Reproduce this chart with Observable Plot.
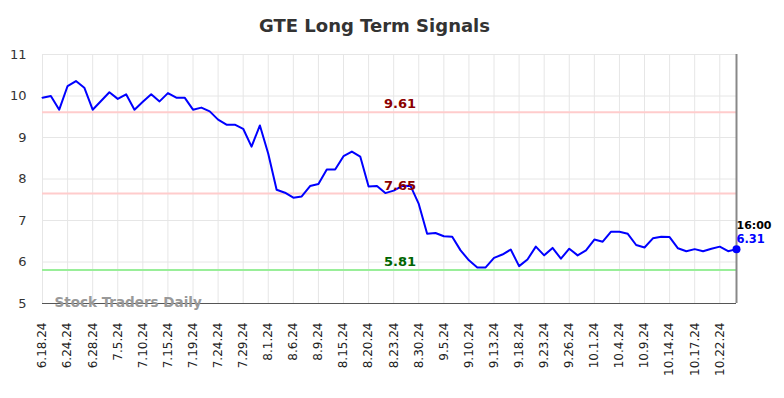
<!DOCTYPE html>
<html><head><meta charset="utf-8">
<script src="https://cdn.jsdelivr.net/npm/d3@7"></script>
<script src="https://cdn.jsdelivr.net/npm/@observablehq/plot@0.6"></script>
<style>body{margin:0;background:#fff} #chart svg{font-family:"DejaVu Sans",sans-serif;}</style>
</head><body><div id="chart"></div>
<script>
const chartTitle = "GTE Long Term Signals";
const watermark = "Stock Traders Daily";
const dateLabels = ["6.18.24","6.24.24","6.28.24","7.5.24","7.10.24","7.15.24","7.19.24","7.24.24","7.29.24","8.1.24","8.6.24","8.9.24","8.15.24","8.20.24","8.23.24","8.30.24","9.5.24","9.10.24","9.13.24","9.18.24","9.23.24","9.26.24","10.1.24","10.4.24","10.9.24","10.14.24","10.17.24","10.22.24"];
const labelEvery = 3;
const prices = [9.96,10.00,9.67,10.24,10.36,10.20,9.67,9.88,10.09,9.93,
  10.04,9.67,9.86,10.04,9.87,10.07,9.96,9.96,9.67,9.72,
  9.63,9.43,9.31,9.31,9.21,8.78,9.29,8.61,7.74,7.67,
  7.55,7.58,7.83,7.88,8.23,8.23,8.55,8.66,8.54,7.82,
  7.83,7.66,7.72,7.83,7.84,7.40,6.68,6.70,6.62,6.61,
  6.28,6.04,5.87,5.87,6.10,6.18,6.30,5.90,6.06,6.37,
  6.16,6.34,6.08,6.32,6.16,6.28,6.54,6.49,6.73,6.73,
  6.68,6.41,6.35,6.57,6.61,6.60,6.33,6.26,6.31,6.26,
  6.32,6.37,6.26,6.31];
const resistanceLevels = [9.61, 7.65];
const supportLevels = [5.81];
const yTicks = [5,6,7,8,9,10,11];
const lastTime = "16:00";

const data = prices.map((v, i) => ({i, v}));
const last = data[data.length - 1];
const tickIdx = dateLabels.map((d, k) => k * labelEvery);
const labelIdx = Math.floor(prices.length / 2) + 1;
const levels = [
  ...resistanceLevels.map(v => ({v, kind: "r"})),
  ...supportLevels.map(v => ({v, kind: "s"}))
];

const plot = Plot.plot({
  width: 784, height: 398,
  marginLeft: 42, marginRight: 48, marginTop: 54, marginBottom: 95,
  style: {fontFamily: "DejaVu Sans", background: "#fff"},
  x: {domain: [0, prices.length - 1]},
  y: {domain: [5, 11]},
  marks: [
    Plot.gridX(tickIdx, {stroke: "#e6e6e6", strokeOpacity: 1, strokeWidth: 1}),
    Plot.gridY(yTicks, {stroke: "#e6e6e6", strokeOpacity: 1, strokeWidth: 1}),
    Plot.axisY(yTicks, {tickSize: 0, tickPadding: 16, fontSize: 13, fill: "#333", label: null}),
    Plot.axisX(tickIdx, {tickSize: 0, tickPadding: 19, tickRotate: -90, fontSize: 12, fill: "#222", label: null,
      tickFormat: i => dateLabels[i / labelEvery]}),
    Plot.ruleY(levels, {y: "v", stroke: d => d.kind === "r" ? "#ffcccc" : "#99ee99", strokeWidth: 2}),
    Plot.ruleY([5], {stroke: "#555", strokeWidth: 1.2}),
    Plot.ruleX([prices.length - 1], {stroke: "#888", strokeWidth: 2}),
    Plot.text([watermark], {frameAnchor: "bottom-left", lineAnchor: "middle", dx: 12, dy: -1, fontSize: 13.5, fontWeight: "bold", fill: "#999", textAnchor: "start"}),
    Plot.line(data, {x: "i", y: "v", stroke: "#0000ff", strokeWidth: 2}),
    Plot.text(levels, {x: () => labelIdx, y: "v", text: d => d.v.toFixed(2), dx: -2, dy: -8, fontSize: 13, fontWeight: "bold",
      fill: d => d.kind === "r" ? "#8b0000" : "#006400"}),
    Plot.dot([last], {x: "i", y: "v", r: 4, fill: "#0000ff"}),
    Plot.text([last], {x: "i", y: "v", text: d => d.v.toFixed(2), dy: -10, textAnchor: "start", fontSize: 11.5, fontWeight: "bold", fill: "#0000ff"}),
    Plot.text([last], {x: "i", y: "v", text: () => lastTime, dy: -24, textAnchor: "start", fontSize: 11, fontWeight: "bold", fill: "#000"}),
    Plot.text([chartTitle], {frameAnchor: "top", lineAnchor: "middle", dx: -15, dy: -28, fontSize: 18, fontWeight: "bold", fill: "#333"})
  ]
});
document.getElementById("chart").appendChild(plot);
</script>
</body></html>
